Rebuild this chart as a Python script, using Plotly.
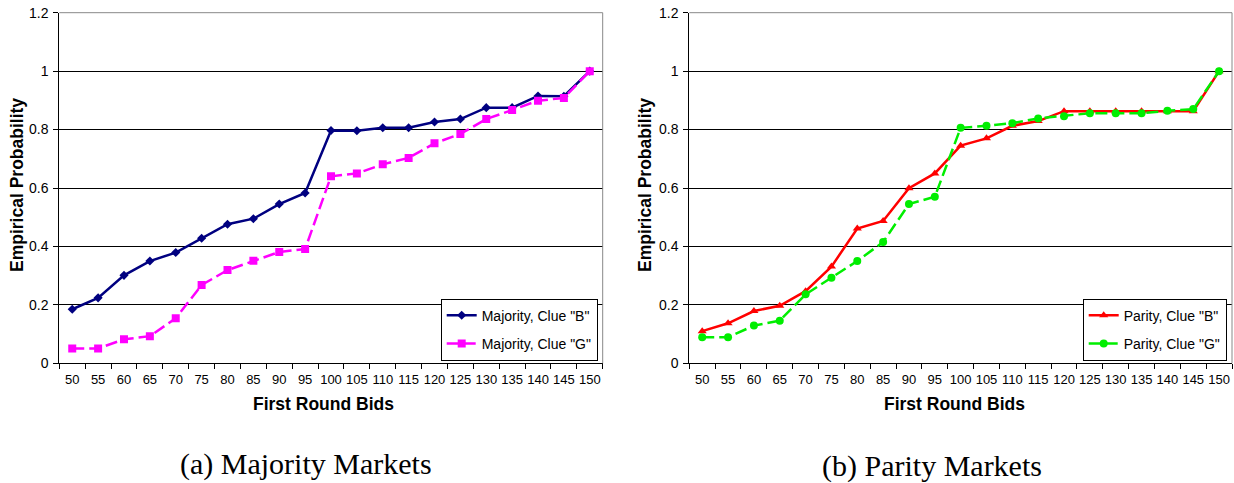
import plotly.graph_objects as go

bids = [str(b) for b in range(50, 155, 5)]

majority_b = [0.185, 0.224, 0.301, 0.350, 0.379, 0.428, 0.476, 0.495, 0.545, 0.583,
              0.797, 0.796, 0.806, 0.806, 0.826, 0.836, 0.875, 0.875, 0.915, 0.914, 1.0]
majority_g = [0.051, 0.051, 0.082, 0.093, 0.154, 0.268, 0.319, 0.351, 0.381, 0.391,
              0.640, 0.650, 0.681, 0.703, 0.753, 0.785, 0.836, 0.867, 0.899, 0.908, 1.0]
parity_b = [0.110, 0.137, 0.179, 0.197, 0.247, 0.331, 0.461, 0.487, 0.599, 0.650,
            0.745, 0.770, 0.813, 0.829, 0.863, 0.863, 0.863, 0.863, 0.863, 0.863, 1.0]
parity_g = [0.089, 0.089, 0.129, 0.146, 0.236, 0.293, 0.350, 0.415, 0.545, 0.570,
            0.806, 0.813, 0.822, 0.838, 0.846, 0.856, 0.856, 0.856, 0.864, 0.870, 1.0]

y_ticks = [0, 0.2, 0.4, 0.6, 0.8, 1, 1.2]
y_ticktext = ["0", "0.2", "0.4", "0.6", "0.8", "1", "1.2"]

W, H = 1234, 483
SANS = "Liberation Sans, Arial, sans-serif"
SERIF = "Liberation Serif, Times New Roman, serif"

def px_x(v):
    return v / W

def px_y(v):
    return 1 - v / H

fig = go.Figure()

fig.add_trace(go.Scatter(x=bids, y=majority_b, name='Majority, Clue "B"', mode="lines+markers",
                         line=dict(color="#000080", width=2.5),
                         marker=dict(symbol="diamond", size=7, color="#000080"),
                         xaxis="x", yaxis="y", legend="legend", legendgroup="mb"))
fig.add_trace(go.Scatter(x=bids, y=majority_g, name='Majority, Clue "G"', mode="lines+markers",
                         line=dict(color="#FF00FF", width=2.5, dash="12px,5px"),
                         marker=dict(symbol="square", size=8, color="#FF00FF"),
                         xaxis="x", yaxis="y", legend="legend", legendgroup="mg"))
fig.add_trace(go.Scatter(x=bids, y=parity_b, name='Parity, Clue "B"', mode="lines+markers",
                         line=dict(color="#FF0000", width=2.5),
                         marker=dict(symbol="triangle-up", size=8, color="#FF0000"),
                         xaxis="x2", yaxis="y2", legend="legend2", legendgroup="pb"))
fig.add_trace(go.Scatter(x=bids, y=parity_g, name='Parity, Clue "G"', mode="lines+markers",
                         line=dict(color="#00EE00", width=2.5, dash="12px,5px"),
                         marker=dict(symbol="circle", size=8, color="#00EE00"),
                         xaxis="x2", yaxis="y2", legend="legend2", legendgroup="pg"))

xdom1 = [px_x(59.3), px_x(602.7)]
xdom2 = [px_x(689.3), px_x(1232)]
ydom = [px_y(363.3), px_y(12.7)]

xcommon = dict(type="category", range=[-0.5, len(bids) - 0.5],
               tickson="boundaries", ticks="outside", ticklen=5,
               tickcolor="black", showline=True, linecolor="black", linewidth=1,
               showgrid=False, tickangle=0, automargin=False, ticklabelstandoff=4,
               tickfont=dict(family=SANS, size=13, color="black"),
               fixedrange=True)
ycommon = dict(range=[0, 1.2], tickvals=y_ticks, ticktext=y_ticktext, ticks="outside",
               ticklen=5, tickcolor="black", showline=True, linecolor="black", linewidth=1,
               showgrid=True, gridcolor="black", gridwidth=1, zeroline=False,
               automargin=False, ticklabelstandoff=2,
               tickfont=dict(family=SANS, size=14, color="black"), fixedrange=True)

legend_common = dict(bgcolor="white", bordercolor="black", borderwidth=1,
                     font=dict(family=SANS, size=14, color="black"),
                     xanchor="right", yanchor="bottom", itemwidth=30,
                     traceorder="grouped", tracegroupgap=7)

fig.update_layout(
    template="none",
    width=W, height=H,
    margin=dict(l=0, r=0, t=0, b=0, autoexpand=False),
    paper_bgcolor="white", plot_bgcolor="white",
    xaxis=dict(domain=xdom1, anchor="y", **xcommon),
    yaxis=dict(domain=ydom, anchor="x", **ycommon),
    xaxis2=dict(domain=xdom2, anchor="y2", **xcommon),
    yaxis2=dict(domain=ydom, anchor="x2", **ycommon),
    legend=dict(x=px_x(597.7), y=px_y(360.7), **legend_common),
    legend2=dict(x=px_x(1226.7), y=px_y(360.7), **legend_common),
    showlegend=True,
)

# gray top/right plot borders
for xr, yr in [("x domain", "y domain"), ("x2 domain", "y2 domain")]:
    fig.add_shape(type="line", xref=xr, yref=yr, x0=0, x1=1, y0=1, y1=1,
                  line=dict(color="#888888", width=1))
    fig.add_shape(type="line", xref=xr, yref=yr, x0=1, x1=1, y0=0, y1=1,
                  line=dict(color="#888888", width=1))

annots = [
    dict(text="<b>First Round Bids</b>", x=px_x(324), y=px_y(404), size=17.5, family=SANS, angle=0),
    dict(text="<b>First Round Bids</b>", x=px_x(954), y=px_y(404), size=17.5, family=SANS, angle=0),
    dict(text="<b>Empirical Probability</b>", x=px_x(17.5), y=px_y(185.5), size=17.5, family=SANS, angle=-90),
    dict(text="<b>Empirical Probability</b>", x=px_x(645.5), y=px_y(185.5), size=17.5, family=SANS, angle=-90),
    dict(text="(a) Majority Markets", x=px_x(306), y=px_y(464), size=30, family=SERIF, angle=0),
    dict(text="(b) Parity Markets", x=px_x(931.7), y=px_y(466), size=30, family=SERIF, angle=0),
]
for a in annots:
    fig.add_annotation(text=a["text"], x=a["x"], y=a["y"], xref="paper", yref="paper",
                       xanchor="center", yanchor="middle", showarrow=False, textangle=a["angle"],
                       font=dict(family=a["family"], size=a["size"], color="black"))

fig.write_html("out.html", config={"displayModeBar": False})
